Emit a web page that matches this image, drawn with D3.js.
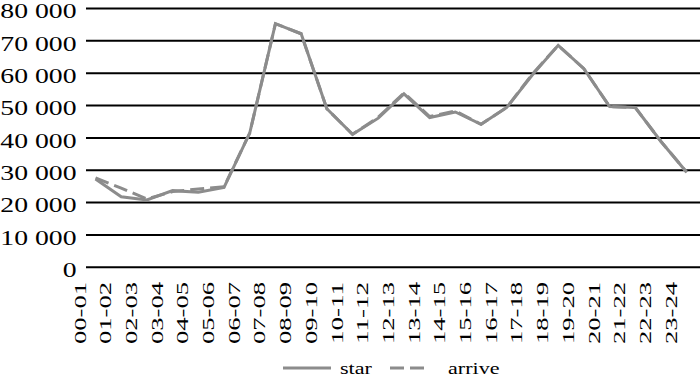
<script src="https://cdn.jsdelivr.net/npm/d3@7"></script>
<body style="margin: 0; background: white;">
<svg id="vis"></svg>
<script>

  // Data
  var hours = ['00-01','01-02','02-03','03-04','04-05','05-06','06-07','07-08','08-09','09-10','10-11','11-12',
               '12-13','13-14','14-15','15-16','16-17','17-18','18-19','19-20','20-21','21-22','22-23','23-24']
  var star = [27300, 21800, 20800, 23700, 23200, 24700, 41500, 75300, 72200, 49000, 41100, 46100,
              53600, 46300, 48000, 44200, 49400, 59500, 68600, 61400, 49700, 49400, 38900, 29400]
  var arrive = [27600, 24500, 21100, 23400, 24200, 24900, 41500, 75300, 72200, 49000, 41100, 46400,
                53900, 46600, 48300, 44200, 49400, 59800, 68600, 61400, 49700, 49400, 38900, 29400]
  var yTicks = [0, 10000, 20000, 30000, 40000, 50000, 60000, 70000, 80000]
  var seriesNames = ['star', 'arrive']

  var width = 700, height = 377
  var lineColor = '#8c8c8c'
  var serif = '"Liberation Serif", "DejaVu Serif", serif'

  var svg = d3.select('#vis')
    .attr('width', width)
    .attr('height', height)

  var x = d3.scalePoint()
    .domain(hours)
    .range([95.5, 686.7])

  var y = d3.scaleLinear()
    .domain([0, 80000])
    .range([267.3, 8.5])

  // gridlines
  svg.append('g')
    .selectAll('line')
    .data(yTicks)
    .enter()
    .append('line')
    .attr('x1', 86)
    .attr('x2', width)
    .attr('y1', function(d) { return y(d) })
    .attr('y2', function(d) { return y(d) })
    .attr('stroke', '#000')
    .attr('stroke-width', 2)

  // y labels (wide serif look)
  var fmt = function(d) { return d3.format(',')(d).replace(/,/g, ' ') }
  svg.append('g')
    .selectAll('text')
    .data(yTicks)
    .enter()
    .append('text')
    .attr('transform', function(d) { return 'translate(76.5,' + (y(d) + 9.8) + ') scale(1.32,1)' })
    .attr('text-anchor', 'end')
    .style('font-family', serif)
    .style('font-size', '21px')
    .style('fill', '#000')
    .text(fmt)

  // x labels, rotated
  svg.append('g')
    .selectAll('text')
    .data(hours)
    .enter()
    .append('text')
    .attr('transform', function(d) { return 'translate(' + (x(d) - 10) + ',282) rotate(-90)' })
    .attr('text-anchor', 'end')
    .attr('textLength', 62)
    .attr('lengthAdjust', 'spacingAndGlyphs')
    .style('font-family', serif)
    .style('font-size', '17.5px')
    .style('fill', '#000')
    .text(function(d) { return d })

  // lines
  var line = d3.line()
    .x(function(d, i) { return x(hours[i]) })
    .y(function(d) { return y(d) })

  svg.append('path')
    .datum(arrive)
    .attr('d', line)
    .attr('fill', 'none')
    .attr('stroke', lineColor)
    .attr('stroke-width', 3)
    .attr('stroke-dasharray', '14,6')

  svg.append('path')
    .datum(star)
    .attr('d', line)
    .attr('fill', 'none')
    .attr('stroke', lineColor)
    .attr('stroke-width', 3)

  // legend
  var legend = svg.append('g')
  legend.append('line')
    .attr('x1', 283).attr('x2', 331)
    .attr('y1', 368).attr('y2', 368)
    .attr('stroke', lineColor)
    .attr('stroke-width', 3)
  legend.append('line')
    .attr('x1', 390).attr('x2', 429)
    .attr('y1', 368).attr('y2', 368)
    .attr('stroke', lineColor)
    .attr('stroke-width', 3)
    .attr('stroke-dasharray', '14,6')

  legend.selectAll('text')
    .data(seriesNames)
    .enter()
    .append('text')
    .attr('transform', function(d, i) { return 'translate(' + (i === 0 ? 340 : 448) + ',374) scale(1.3,1)' })
    .style('font-family', serif)
    .style('font-size', '17px')
    .style('fill', '#000')
    .text(function(d) { return d })

</script>
</body>
